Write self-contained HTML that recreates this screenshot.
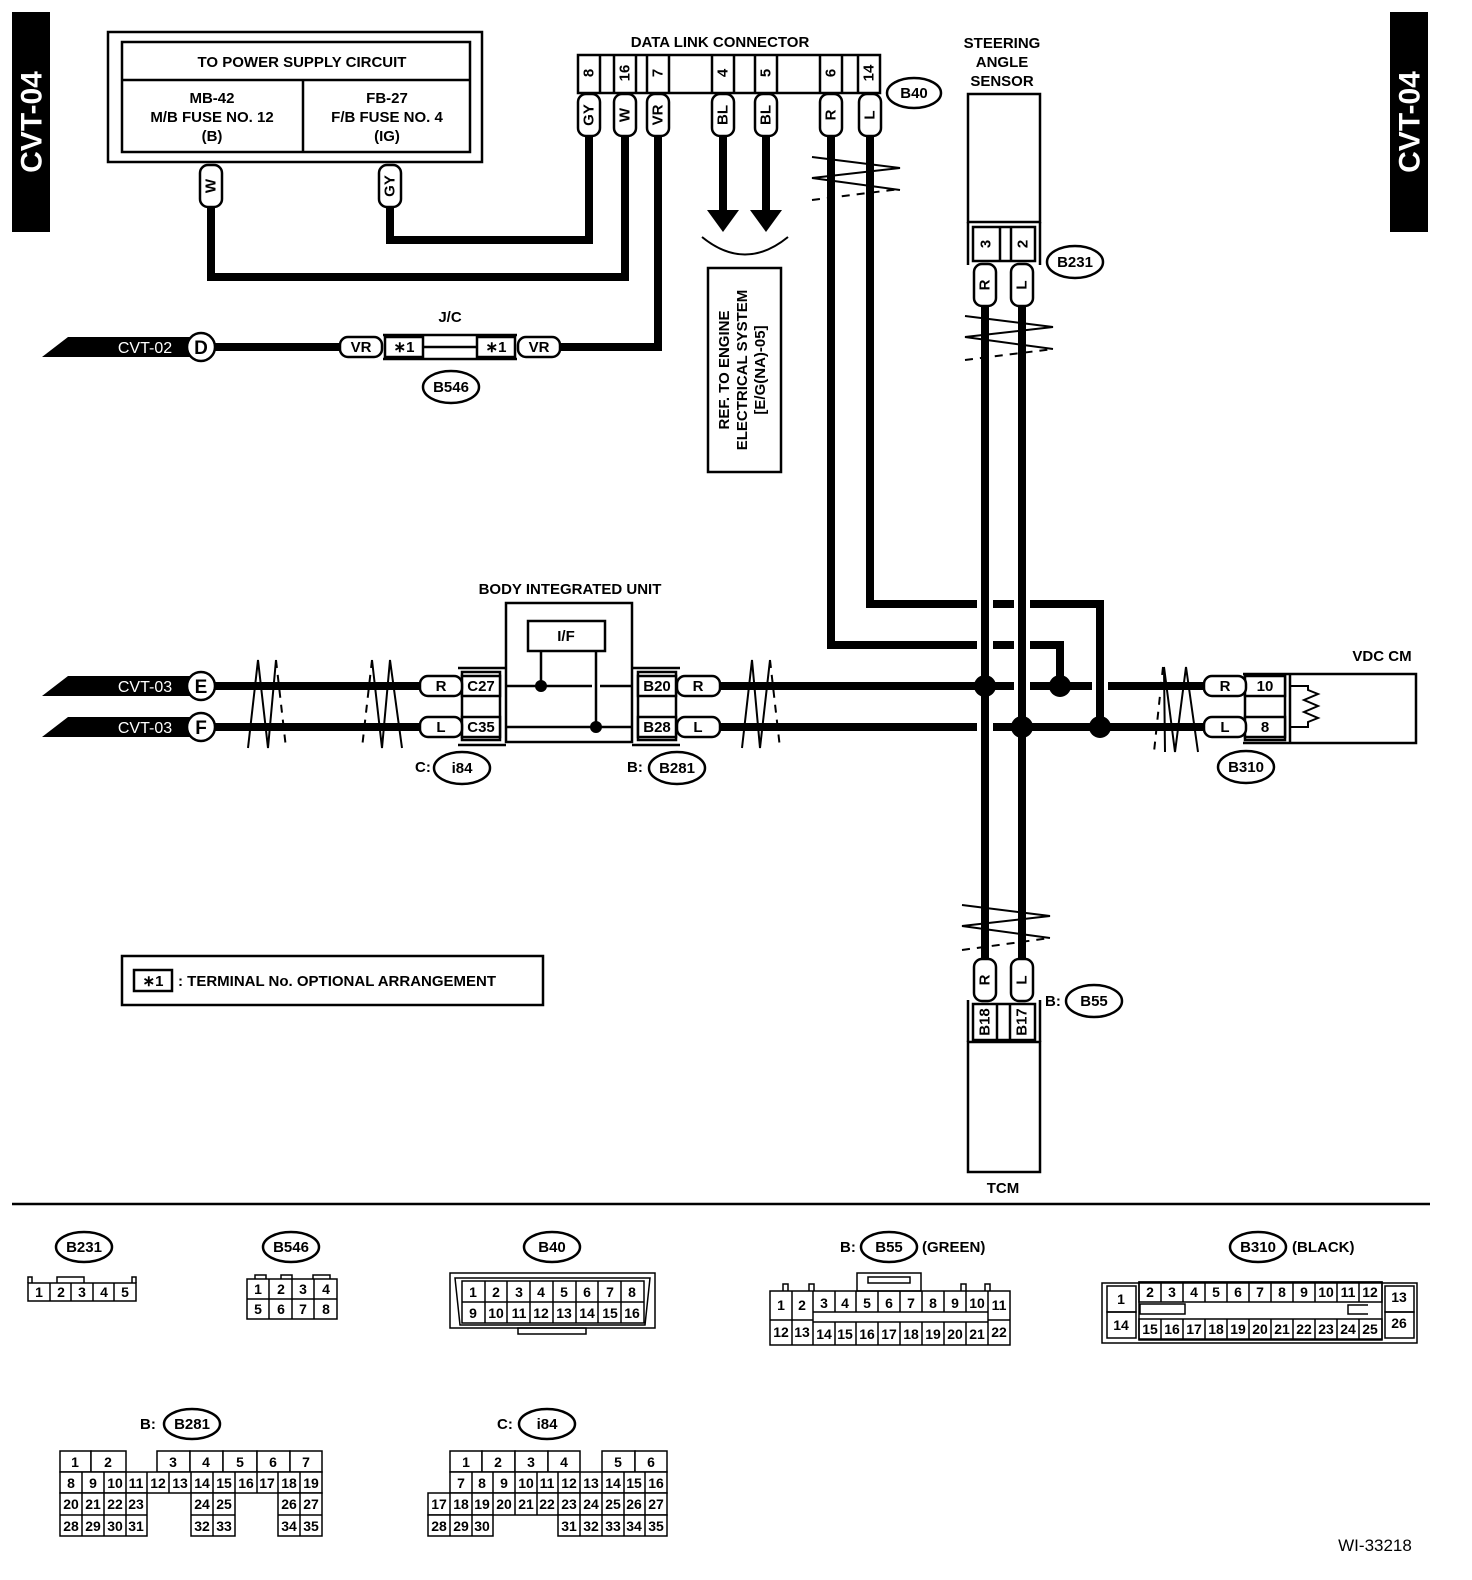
<!DOCTYPE html>
<html><head><meta charset="utf-8"><style>
html,body{margin:0;padding:0;background:#fff}
svg{display:block}
text{font-family:"Liberation Sans",sans-serif;font-weight:bold;fill:#000}
.t{font-size:15px}
.s{font-size:13px;font-weight:normal}
</style></head><body>
<svg width="1472" height="1580" viewBox="0 0 1472 1580" xmlns="http://www.w3.org/2000/svg">
<!-- side tabs -->
<rect x="12" y="12" width="38" height="220" fill="#000"/>
<text transform="translate(32,122) rotate(-90)" text-anchor="middle" dominant-baseline="central" style="font-size:30px;fill:#fff">CVT-04</text>
<rect x="1390" y="12" width="38" height="220" fill="#000"/>
<text transform="translate(1410,122) rotate(-90)" text-anchor="middle" dominant-baseline="central" style="font-size:30px;fill:#fff">CVT-04</text>

<!-- power supply -->
<rect x="108" y="32" width="374" height="130" fill="none" stroke="#000" stroke-width="2.5"/>
<rect x="122" y="42" width="348" height="110" fill="none" stroke="#000" stroke-width="2.5"/>
<line x1="122" y1="80" x2="470" y2="80" stroke="#000" stroke-width="2.5"/>
<line x1="303" y1="80" x2="303" y2="152" stroke="#000" stroke-width="2.5"/>
<g class="t" text-anchor="middle">
<text x="302" y="67">TO POWER SUPPLY CIRCUIT</text>
<text x="212" y="103">MB-42</text><text x="212" y="122">M/B FUSE NO. 12</text><text x="212" y="141">(B)</text>
<text x="387" y="103">FB-27</text><text x="387" y="122">F/B FUSE NO. 4</text><text x="387" y="141">(IG)</text>
</g>

<!-- thick wires -->
<g fill="none" stroke="#000" stroke-width="8">
<polyline points="211,205 211,277 625,277 625,134"/>
<polyline points="390,205 390,240 589,240 589,134"/>
<polyline points="658,134 658,347 560,347"/>
<line x1="215" y1="347" x2="340" y2="347"/>
<line x1="723" y1="134" x2="723" y2="212"/>
<line x1="766" y1="134" x2="766" y2="212"/>
<polyline points="831,134 831,645 977,645"/>
<line x1="993" y1="645" x2="1014" y2="645"/>
<polyline points="1030,645 1060,645 1060,686"/>
<polyline points="870,134 870,604 977,604"/>
<line x1="993" y1="604" x2="1014" y2="604"/>
<polyline points="1030,604 1100,604 1100,727"/>
<line x1="985" y1="305" x2="985" y2="960"/>
<line x1="1022" y1="305" x2="1022" y2="960"/>
<line x1="215" y1="686" x2="420" y2="686"/>
<line x1="215" y1="727" x2="420" y2="727"/>
<line x1="720" y1="686" x2="1014" y2="686"/>
<line x1="1030" y1="686" x2="1092" y2="686"/>
<line x1="1108" y1="686" x2="1205" y2="686"/>
<line x1="720" y1="727" x2="977" y2="727"/>
<line x1="993" y1="727" x2="1205" y2="727"/>
</g>
<g fill="#000">
<circle cx="985" cy="686" r="11"/><circle cx="1022" cy="727" r="11"/>
<circle cx="1060" cy="686" r="11"/><circle cx="1100" cy="727" r="11"/>
</g>
<!-- arrows -->
<polygon points="707,210 739,210 723,232" fill="#000"/>
<polygon points="750,210 782,210 766,232" fill="#000"/>
<path d="M702,237 Q745,272 788,237" fill="none" stroke="#000" stroke-width="2"/>
<rect x="708" y="268" width="73" height="204" fill="none" stroke="#000" stroke-width="2.5"/>
<g class="t" transform="translate(745,370) rotate(-90)" text-anchor="middle">
<text x="0" y="-16">REF. TO ENGINE</text><text x="0" y="2">ELECTRICAL SYSTEM</text><text x="0" y="20">[E/G(NA)-05]</text>
</g>

<g fill="#fff" stroke="#000" stroke-width="2.5">
<rect x="200" y="165" width="22" height="42" rx="8"/>
<rect x="379" y="165" width="22" height="42" rx="8"/>
</g>
<text class="t" transform="translate(211,186) rotate(-90)" text-anchor="middle" dominant-baseline="central">W</text>
<text class="t" transform="translate(390,186) rotate(-90)" text-anchor="middle" dominant-baseline="central">GY</text>

<!-- DLC -->
<text class="t" x="720" y="47" text-anchor="middle">DATA LINK CONNECTOR</text>
<rect x="578" y="55" width="302" height="38" fill="#fff" stroke="#000" stroke-width="2.5"/>
<g stroke="#000" stroke-width="2.5">
<line x1="600" y1="55" x2="600" y2="93"/><line x1="614" y1="55" x2="614" y2="93"/><line x1="636" y1="55" x2="636" y2="93"/>
<line x1="647" y1="55" x2="647" y2="93"/><line x1="669" y1="55" x2="669" y2="93"/>
<line x1="712" y1="55" x2="712" y2="93"/><line x1="734" y1="55" x2="734" y2="93"/>
<line x1="755" y1="55" x2="755" y2="93"/><line x1="777" y1="55" x2="777" y2="93"/>
<line x1="820" y1="55" x2="820" y2="93"/><line x1="842" y1="55" x2="842" y2="93"/>
<line x1="858" y1="55" x2="858" y2="93"/>
</g>
<g class="t" text-anchor="middle" dominant-baseline="central">
<text transform="translate(589,73) rotate(-90)">8</text>
<text transform="translate(625,73) rotate(-90)">16</text>
<text transform="translate(658,73) rotate(-90)">7</text>
<text transform="translate(723,73) rotate(-90)">4</text>
<text transform="translate(766,73) rotate(-90)">5</text>
<text transform="translate(831,73) rotate(-90)">6</text>
<text transform="translate(869,73) rotate(-90)">14</text>
</g>
<g fill="#fff" stroke="#000" stroke-width="2.5">
<rect x="578" y="94" width="22" height="42" rx="8"/>
<rect x="614" y="94" width="22" height="42" rx="8"/>
<rect x="647" y="94" width="22" height="42" rx="8"/>
<rect x="712" y="94" width="22" height="42" rx="8"/>
<rect x="755" y="94" width="22" height="42" rx="8"/>
<rect x="820" y="94" width="22" height="42" rx="8"/>
<rect x="859" y="94" width="22" height="42" rx="8"/>
</g>
<g class="t" text-anchor="middle" dominant-baseline="central">
<text transform="translate(589,115) rotate(-90)">GY</text>
<text transform="translate(625,115) rotate(-90)">W</text>
<text transform="translate(658,115) rotate(-90)">VR</text>
<text transform="translate(723,115) rotate(-90)">BL</text>
<text transform="translate(766,115) rotate(-90)">BL</text>
<text transform="translate(831,115) rotate(-90)">R</text>
<text transform="translate(870,115) rotate(-90)">L</text>
</g>
<ellipse cx="914" cy="93" rx="27" ry="15" fill="#fff" stroke="#000" stroke-width="2.5"/>
<text class="t" x="914" y="98" text-anchor="middle">B40</text>

<!-- break marks -->
<g stroke="#000" stroke-width="2" fill="none">
<polyline points="812,157 900,168 812,178 900,190"/>
<line x1="812" y1="200" x2="900" y2="189" stroke-dasharray="8,7"/>
<polyline points="965,316 1053,327 965,337 1053,349"/>
<line x1="965" y1="360" x2="1053" y2="349" stroke-dasharray="8,7"/>
<polyline points="962,905 1050,916 962,926 1050,938"/>
<line x1="962" y1="950" x2="1050" y2="938" stroke-dasharray="8,7"/>
<polyline points="248,748 258,660 268,748 276,660"/>
<line x1="276" y1="660" x2="286" y2="748" stroke-dasharray="8,7"/>
<line x1="372" y1="660" x2="362" y2="748" stroke-dasharray="8,7"/>
<polyline points="372,660 382,748 390,660 402,748"/>
<polyline points="742,748 752,660 760,748 770,660"/>
<line x1="770" y1="660" x2="780" y2="748" stroke-dasharray="8,7"/>
<line x1="1163" y1="667" x2="1154" y2="752" stroke-dasharray="8,7"/>
<polyline points="1165,752 1164,667 1175,752 1186,667 1198,752"/>
</g>

<!-- steering angle sensor -->
<g class="t" text-anchor="middle"><text x="1002" y="48">STEERING</text><text x="1002" y="67">ANGLE</text><text x="1002" y="86">SENSOR</text></g>
<rect x="968" y="94" width="72" height="128" fill="#fff" stroke="#000" stroke-width="2.5"/>
<line x1="968" y1="222" x2="968" y2="265" stroke="#000" stroke-width="2.5"/>
<line x1="1040" y1="222" x2="1040" y2="265" stroke="#000" stroke-width="2.5"/>
<rect x="973" y="227" width="62" height="34" fill="#fff" stroke="#000" stroke-width="2.5"/>
<line x1="1000" y1="227" x2="1000" y2="261" stroke="#000" stroke-width="2.5"/>
<line x1="1011" y1="227" x2="1011" y2="261" stroke="#000" stroke-width="2.5"/>
<text class="t" transform="translate(986,244) rotate(-90)" text-anchor="middle" dominant-baseline="central">3</text>
<text class="t" transform="translate(1023,244) rotate(-90)" text-anchor="middle" dominant-baseline="central">2</text>
<rect x="974" y="264" width="22" height="42" rx="8" fill="#fff" stroke="#000" stroke-width="2.5"/>
<rect x="1011" y="264" width="22" height="42" rx="8" fill="#fff" stroke="#000" stroke-width="2.5"/>
<text class="t" transform="translate(985,285) rotate(-90)" text-anchor="middle" dominant-baseline="central">R</text>
<text class="t" transform="translate(1022,285) rotate(-90)" text-anchor="middle" dominant-baseline="central">L</text>
<ellipse cx="1075" cy="262" rx="28" ry="16" fill="#fff" stroke="#000" stroke-width="2.5"/>
<text class="t" x="1075" y="267" text-anchor="middle">B231</text>

<!-- TCM -->
<rect x="974" y="959" width="22" height="42" rx="8" fill="#fff" stroke="#000" stroke-width="2.5"/>
<rect x="1011" y="959" width="22" height="42" rx="8" fill="#fff" stroke="#000" stroke-width="2.5"/>
<text class="t" transform="translate(985,980) rotate(-90)" text-anchor="middle" dominant-baseline="central">R</text>
<text class="t" transform="translate(1022,980) rotate(-90)" text-anchor="middle" dominant-baseline="central">L</text>
<line x1="968" y1="1000" x2="968" y2="1042" stroke="#000" stroke-width="2.5"/>
<line x1="1040" y1="1000" x2="1040" y2="1042" stroke="#000" stroke-width="2.5"/>
<rect x="973" y="1004" width="62" height="36" fill="#fff" stroke="#000" stroke-width="2.5"/>
<line x1="997" y1="1004" x2="997" y2="1040" stroke="#000" stroke-width="2.5"/>
<line x1="1010" y1="1004" x2="1010" y2="1040" stroke="#000" stroke-width="2.5"/>
<text class="t" transform="translate(985,1022) rotate(-90)" text-anchor="middle" dominant-baseline="central">B18</text>
<text class="t" transform="translate(1022,1022) rotate(-90)" text-anchor="middle" dominant-baseline="central">B17</text>
<rect x="968" y="1042" width="72" height="130" fill="#fff" stroke="#000" stroke-width="2.5"/>
<text class="t" x="1003" y="1193" text-anchor="middle">TCM</text>
<text class="t" x="1045" y="1006">B:</text>
<ellipse cx="1094" cy="1001" rx="28" ry="16" fill="#fff" stroke="#000" stroke-width="2.5"/>
<text class="t" x="1094" y="1006" text-anchor="middle">B55</text>

<!-- CVT labels -->
<g>
<polygon points="42,357 68,337 190,337 190,357" fill="#000"/>
<text x="145" y="353" text-anchor="middle" style="font-size:16px;fill:#fff;font-weight:normal">CVT-02</text>
<circle cx="201" cy="347" r="14" fill="#fff" stroke="#000" stroke-width="2.5"/>
<text x="201" y="354" text-anchor="middle" style="font-size:19px">D</text>
<polygon points="42,696 68,676 190,676 190,696" fill="#000"/>
<text x="145" y="692" text-anchor="middle" style="font-size:16px;fill:#fff;font-weight:normal">CVT-03</text>
<circle cx="201" cy="686" r="14" fill="#fff" stroke="#000" stroke-width="2.5"/>
<text x="201" y="693" text-anchor="middle" style="font-size:19px">E</text>
<polygon points="42,737 68,717 190,717 190,737" fill="#000"/>
<text x="145" y="733" text-anchor="middle" style="font-size:16px;fill:#fff;font-weight:normal">CVT-03</text>
<circle cx="201" cy="727" r="14" fill="#fff" stroke="#000" stroke-width="2.5"/>
<text x="201" y="734" text-anchor="middle" style="font-size:19px">F</text>
</g>

<!-- J/C -->
<text class="t" x="450" y="322" text-anchor="middle">J/C</text>
<g stroke="#000" stroke-width="2.5" fill="#fff">
<line x1="383" y1="335" x2="517" y2="335"/><line x1="383" y1="359" x2="517" y2="359"/>
<line x1="423" y1="347" x2="477" y2="347"/>
<rect x="340" y="337" width="42" height="20" rx="8"/>
<rect x="385" y="337" width="38" height="20"/>
<rect x="477" y="337" width="38" height="20"/>
<rect x="518" y="337" width="42" height="20" rx="8"/>
</g>
<g class="t" text-anchor="middle">
<text x="361" y="352">VR</text><text x="404" y="352">∗1</text><text x="496" y="352">∗1</text><text x="539" y="352">VR</text>
</g>
<ellipse cx="451" cy="387" rx="28" ry="16" fill="#fff" stroke="#000" stroke-width="2.5"/>
<text class="t" x="451" y="392" text-anchor="middle">B546</text>

<!-- Body integrated unit -->
<text class="t" x="570" y="594" text-anchor="middle">BODY INTEGRATED UNIT</text>
<rect x="506" y="603" width="126" height="139" fill="#fff" stroke="#000" stroke-width="2.5"/>
<rect x="528" y="621" width="77" height="30" fill="#fff" stroke="#000" stroke-width="2.5"/>
<text class="t" x="566" y="641" text-anchor="middle">I/F</text>
<g stroke="#000" stroke-width="2.5">
<line x1="506" y1="686" x2="592" y2="686"/><line x1="600" y1="686" x2="632" y2="686"/>
<line x1="506" y1="727" x2="632" y2="727"/>
<line x1="541" y1="651" x2="541" y2="686"/><line x1="596" y1="651" x2="596" y2="727"/>
<line x1="458" y1="668" x2="506" y2="668"/><line x1="458" y1="745" x2="506" y2="745"/>
<line x1="632" y1="668" x2="680" y2="668"/><line x1="632" y1="745" x2="680" y2="745"/>
</g>
<circle cx="541" cy="686" r="6" fill="#000"/><circle cx="596" cy="727" r="6" fill="#000"/>
<g stroke="#000" stroke-width="2.5" fill="#fff">
<rect x="462" y="672" width="38" height="68"/><rect x="462" y="676" width="38" height="20"/><rect x="462" y="717" width="38" height="20"/>
<rect x="638" y="672" width="38" height="68"/><rect x="638" y="676" width="38" height="20"/><rect x="638" y="717" width="38" height="20"/>
<rect x="420" y="676" width="42" height="20" rx="8"/><rect x="420" y="717" width="42" height="20" rx="8"/>
<rect x="677" y="676" width="43" height="20" rx="8"/><rect x="677" y="717" width="43" height="20" rx="8"/>
</g>
<g class="t" text-anchor="middle">
<text x="441" y="691">R</text><text x="441" y="732">L</text>
<text x="481" y="691">C27</text><text x="481" y="732">C35</text>
<text x="657" y="691">B20</text><text x="657" y="732">B28</text>
<text x="698" y="691">R</text><text x="698" y="732">L</text>
</g>
<text class="t" x="415" y="772">C:</text>
<ellipse cx="462" cy="768" rx="28" ry="16" fill="#fff" stroke="#000" stroke-width="2.5"/>
<text class="t" x="462" y="773" text-anchor="middle">i84</text>
<text class="t" x="627" y="772">B:</text>
<ellipse cx="677" cy="768" rx="28" ry="16" fill="#fff" stroke="#000" stroke-width="2.5"/>
<text class="t" x="677" y="773" text-anchor="middle">B281</text>

<!-- VDC CM -->
<text class="t" x="1382" y="661" text-anchor="middle">VDC CM</text>
<g stroke="#000" stroke-width="2.5" fill="#fff">
<polyline points="1243,674 1416,674 1416,743 1243,743" />
<line x1="1290" y1="674" x2="1290" y2="743"/>
<rect x="1245" y="676" width="40" height="64"/><rect x="1245" y="676" width="40" height="20"/><rect x="1245" y="717" width="40" height="20"/>
<rect x="1204" y="676" width="42" height="20" rx="8"/><rect x="1204" y="717" width="42" height="20" rx="8"/>
</g>
<polyline points="1290,686 1308,686 1308,690 1318,694 1304,700 1318,706 1304,712 1318,718 1308,722 1308,727 1290,727" fill="none" stroke="#000" stroke-width="2"/>
<g class="t" text-anchor="middle">
<text x="1225" y="691">R</text><text x="1225" y="732">L</text><text x="1265" y="691">10</text><text x="1265" y="732">8</text>
</g>
<ellipse cx="1246" cy="767" rx="28" ry="16" fill="#fff" stroke="#000" stroke-width="2.5"/>
<text class="t" x="1246" y="772" text-anchor="middle">B310</text>

<!-- legend -->
<rect x="122" y="956" width="421" height="49" fill="#fff" stroke="#000" stroke-width="2.5"/>
<rect x="134" y="970" width="38" height="21" fill="#fff" stroke="#000" stroke-width="2.5"/>
<text class="t" x="153" y="986" text-anchor="middle">∗1</text>
<text class="t" x="178" y="986">: TERMINAL No. OPTIONAL ARRANGEMENT</text>

<line x1="12" y1="1204" x2="1430" y2="1204" stroke="#000" stroke-width="2.5"/>

<!-- bottom connectors -->
<g fill="#fff" stroke="#000" stroke-width="2.5">
<ellipse cx="84" cy="1247" rx="28" ry="15"/>
<ellipse cx="291" cy="1247" rx="28" ry="15"/>
<ellipse cx="552" cy="1247" rx="28" ry="15"/>
<ellipse cx="889" cy="1247" rx="28" ry="15"/>
<ellipse cx="1258" cy="1247" rx="28" ry="15"/>
<ellipse cx="192" cy="1424" rx="28" ry="15"/>
<ellipse cx="547" cy="1424" rx="28" ry="15"/>
</g>
<g class="t" text-anchor="middle">
<text x="84" y="1252">B231</text><text x="291" y="1252">B546</text><text x="552" y="1252">B40</text>
<text x="889" y="1252">B55</text><text x="1258" y="1252">B310</text>
<text x="192" y="1429">B281</text><text x="547" y="1429">i84</text>
</g>
<g class="t"><text x="840" y="1252">B:</text><text x="922" y="1252">(GREEN)</text><text x="1292" y="1252">(BLACK)</text>
<text x="140" y="1429">B:</text><text x="497" y="1429">C:</text></g>

<g fill="none" stroke="#000" stroke-width="1.5">
<rect x="28" y="1283" width="108" height="18"/>
<line x1="50" y1="1283" x2="50" y2="1301"/><line x1="71" y1="1283" x2="71" y2="1301"/><line x1="93" y1="1283" x2="93" y2="1301"/><line x1="114" y1="1283" x2="114" y2="1301"/>
<polyline points="28,1283 28,1277 32,1277 32,1283"/><polyline points="132,1283 132,1277 136,1277 136,1283"/>
<polyline points="57,1283 57,1277 84,1277 84,1283"/>
<rect x="247" y="1279" width="90" height="40"/>
<line x1="247" y1="1299" x2="337" y2="1299"/>
<line x1="269" y1="1279" x2="269" y2="1319"/><line x1="292" y1="1279" x2="292" y2="1319"/><line x1="314" y1="1279" x2="314" y2="1319"/>
<polyline points="255,1279 255,1275 266,1275 266,1279"/><polyline points="281,1279 281,1275 292,1275 292,1279"/><polyline points="313,1279 313,1275 330,1275 330,1279"/>
<rect x="450" y="1273" width="205" height="55"/>
<path d="M455,1278 L650,1278 L645,1325 L460,1325 Z"/>
<rect x="462" y="1281" width="182" height="42"/>
<line x1="462" y1="1302" x2="644" y2="1302"/>
<line x1="485" y1="1281" x2="485" y2="1323"/><line x1="507" y1="1281" x2="507" y2="1323"/><line x1="530" y1="1281" x2="530" y2="1323"/><line x1="553" y1="1281" x2="553" y2="1323"/><line x1="576" y1="1281" x2="576" y2="1323"/><line x1="598" y1="1281" x2="598" y2="1323"/><line x1="621" y1="1281" x2="621" y2="1323"/>
<rect x="518" y="1328" width="68" height="6"/>
<rect x="770" y="1291" width="240" height="54"/>
<line x1="770" y1="1320" x2="813" y2="1320"/><line x1="988" y1="1320" x2="1010" y2="1320"/>
<line x1="813" y1="1312" x2="988" y2="1312"/><line x1="813" y1="1322" x2="988" y2="1322"/>
<line x1="792" y1="1291" x2="792" y2="1345"/><line x1="813" y1="1291" x2="813" y2="1345"/>
<line x1="835" y1="1291" x2="835" y2="1312"/><line x1="856" y1="1291" x2="856" y2="1312"/><line x1="878" y1="1291" x2="878" y2="1312"/><line x1="900" y1="1291" x2="900" y2="1312"/><line x1="922" y1="1291" x2="922" y2="1312"/><line x1="944" y1="1291" x2="944" y2="1312"/><line x1="966" y1="1291" x2="966" y2="1312"/>
<line x1="835" y1="1322" x2="835" y2="1345"/><line x1="856" y1="1322" x2="856" y2="1345"/><line x1="878" y1="1322" x2="878" y2="1345"/><line x1="900" y1="1322" x2="900" y2="1345"/><line x1="922" y1="1322" x2="922" y2="1345"/><line x1="944" y1="1322" x2="944" y2="1345"/><line x1="966" y1="1322" x2="966" y2="1345"/>
<line x1="988" y1="1291" x2="988" y2="1345"/>
<rect x="857" y="1273" width="64" height="18"/><rect x="868" y="1277" width="42" height="6"/>
<polyline points="783,1291 783,1284 788,1284 788,1291"/><polyline points="809,1291 809,1284 814,1284 814,1291"/><polyline points="961,1291 961,1284 966,1284 966,1291"/><polyline points="985,1291 985,1284 990,1284 990,1291"/>
<rect x="1102" y="1283" width="315" height="60"/>
<rect x="1107" y="1286" width="29" height="26"/><rect x="1107" y="1312" width="29" height="26"/>
<rect x="1385" y="1286" width="29" height="26"/><rect x="1385" y="1312" width="29" height="26"/>
<rect x="1139" y="1282" width="243" height="58"/>
<rect x="1139" y="1282" width="243" height="20"/><rect x="1139" y="1319" width="243" height="20"/>
<rect x="1140" y="1304" width="45" height="10"/><polyline points="1368,1305 1348,1305 1348,1314 1368,1314"/>
<line x1="1161" y1="1282" x2="1161" y2="1302"/><line x1="1183" y1="1282" x2="1183" y2="1302"/><line x1="1205" y1="1282" x2="1205" y2="1302"/><line x1="1227" y1="1282" x2="1227" y2="1302"/><line x1="1249" y1="1282" x2="1249" y2="1302"/><line x1="1271" y1="1282" x2="1271" y2="1302"/><line x1="1293" y1="1282" x2="1293" y2="1302"/><line x1="1315" y1="1282" x2="1315" y2="1302"/><line x1="1337" y1="1282" x2="1337" y2="1302"/><line x1="1359" y1="1282" x2="1359" y2="1302"/>
<line x1="1161" y1="1319" x2="1161" y2="1339"/><line x1="1183" y1="1319" x2="1183" y2="1339"/><line x1="1205" y1="1319" x2="1205" y2="1339"/><line x1="1227" y1="1319" x2="1227" y2="1339"/><line x1="1249" y1="1319" x2="1249" y2="1339"/><line x1="1271" y1="1319" x2="1271" y2="1339"/><line x1="1293" y1="1319" x2="1293" y2="1339"/><line x1="1315" y1="1319" x2="1315" y2="1339"/><line x1="1337" y1="1319" x2="1337" y2="1339"/><line x1="1359" y1="1319" x2="1359" y2="1339"/>
</g>
<g class="s" text-anchor="middle" style="font-size:14px">
<text x="39" y="1297">1</text><text x="61" y="1297">2</text><text x="82" y="1297">3</text><text x="104" y="1297">4</text><text x="125" y="1297">5</text>
<text x="258" y="1294">1</text><text x="281" y="1294">2</text><text x="303" y="1294">3</text><text x="326" y="1294">4</text>
<text x="258" y="1314">5</text><text x="281" y="1314">6</text><text x="303" y="1314">7</text><text x="326" y="1314">8</text>
<text x="473" y="1297">1</text><text x="496" y="1297">2</text><text x="519" y="1297">3</text><text x="541" y="1297">4</text><text x="564" y="1297">5</text><text x="587" y="1297">6</text><text x="610" y="1297">7</text><text x="632" y="1297">8</text>
<text x="473" y="1318">9</text><text x="496" y="1318">10</text><text x="519" y="1318">11</text><text x="541" y="1318">12</text><text x="564" y="1318">13</text><text x="587" y="1318">14</text><text x="610" y="1318">15</text><text x="632" y="1318">16</text>
<text x="781" y="1310">1</text><text x="802" y="1310">2</text><text x="824" y="1308">3</text><text x="845" y="1308">4</text><text x="867" y="1308">5</text><text x="889" y="1308">6</text><text x="911" y="1308">7</text><text x="933" y="1308">8</text><text x="955" y="1308">9</text><text x="977" y="1308">10</text><text x="999" y="1310">11</text>
<text x="781" y="1337">12</text><text x="802" y="1337">13</text><text x="824" y="1339">14</text><text x="845" y="1339">15</text><text x="867" y="1339">16</text><text x="889" y="1339">17</text><text x="911" y="1339">18</text><text x="933" y="1339">19</text><text x="955" y="1339">20</text><text x="977" y="1339">21</text><text x="999" y="1337">22</text>
<text x="1121" y="1304">1</text><text x="1121" y="1330">14</text><text x="1399" y="1302">13</text><text x="1399" y="1328">26</text>
<text x="1150" y="1297">2</text><text x="1172" y="1297">3</text><text x="1194" y="1297">4</text><text x="1216" y="1297">5</text><text x="1238" y="1297">6</text><text x="1260" y="1297">7</text><text x="1282" y="1297">8</text><text x="1304" y="1297">9</text><text x="1326" y="1297">10</text><text x="1348" y="1297">11</text><text x="1370" y="1297">12</text>
<text x="1150" y="1334">15</text><text x="1172" y="1334">16</text><text x="1194" y="1334">17</text><text x="1216" y="1334">18</text><text x="1238" y="1334">19</text><text x="1260" y="1334">20</text><text x="1282" y="1334">21</text><text x="1304" y="1334">22</text><text x="1326" y="1334">23</text><text x="1348" y="1334">24</text><text x="1370" y="1334">25</text>
</g>

<g fill="#fff" stroke="#000" stroke-width="1.5">
<rect x="60" y="1451" width="31" height="21"/><rect x="91" y="1451" width="35" height="21"/>
<rect x="157" y="1451" width="33" height="21"/><rect x="190" y="1451" width="33" height="21"/><rect x="223" y="1451" width="34" height="21"/><rect x="257" y="1451" width="33" height="21"/><rect x="290" y="1451" width="32" height="21"/>
<rect x="60" y="1472" width="262" height="21"/>
<line x1="82" y1="1472" x2="82" y2="1493"/><line x1="104" y1="1472" x2="104" y2="1493"/><line x1="126" y1="1472" x2="126" y2="1493"/><line x1="147" y1="1472" x2="147" y2="1493"/><line x1="169" y1="1472" x2="169" y2="1493"/><line x1="191" y1="1472" x2="191" y2="1493"/><line x1="213" y1="1472" x2="213" y2="1493"/><line x1="235" y1="1472" x2="235" y2="1493"/><line x1="257" y1="1472" x2="257" y2="1493"/><line x1="278" y1="1472" x2="278" y2="1493"/><line x1="300" y1="1472" x2="300" y2="1493"/>
<rect x="60" y="1493" width="87" height="43"/><line x1="60" y1="1515" x2="147" y2="1515"/><line x1="82" y1="1493" x2="82" y2="1536"/><line x1="104" y1="1493" x2="104" y2="1536"/><line x1="126" y1="1493" x2="126" y2="1536"/>
<rect x="191" y="1493" width="44" height="43"/><line x1="191" y1="1515" x2="235" y2="1515"/><line x1="213" y1="1493" x2="213" y2="1536"/>
<rect x="278" y="1493" width="44" height="43"/><line x1="278" y1="1515" x2="322" y2="1515"/><line x1="300" y1="1493" x2="300" y2="1536"/>
<rect x="450" y="1451" width="32" height="21"/><rect x="482" y="1451" width="33" height="21"/><rect x="515" y="1451" width="33" height="21"/><rect x="548" y="1451" width="32" height="21"/>
<rect x="602" y="1451" width="33" height="21"/><rect x="635" y="1451" width="32" height="21"/>
<rect x="450" y="1472" width="217" height="21"/>
<line x1="472" y1="1472" x2="472" y2="1493"/><line x1="493" y1="1472" x2="493" y2="1493"/><line x1="515" y1="1472" x2="515" y2="1493"/><line x1="537" y1="1472" x2="537" y2="1493"/><line x1="558" y1="1472" x2="558" y2="1493"/><line x1="580" y1="1472" x2="580" y2="1493"/><line x1="602" y1="1472" x2="602" y2="1493"/><line x1="624" y1="1472" x2="624" y2="1493"/><line x1="645" y1="1472" x2="645" y2="1493"/>
<rect x="428" y="1493" width="239" height="22"/>
<line x1="450" y1="1493" x2="450" y2="1515"/><line x1="472" y1="1493" x2="472" y2="1515"/><line x1="493" y1="1493" x2="493" y2="1515"/><line x1="515" y1="1493" x2="515" y2="1515"/><line x1="537" y1="1493" x2="537" y2="1515"/><line x1="558" y1="1493" x2="558" y2="1515"/><line x1="580" y1="1493" x2="580" y2="1515"/><line x1="602" y1="1493" x2="602" y2="1515"/><line x1="624" y1="1493" x2="624" y2="1515"/><line x1="645" y1="1493" x2="645" y2="1515"/>
<rect x="428" y="1515" width="65" height="21"/><line x1="450" y1="1515" x2="450" y2="1536"/><line x1="472" y1="1515" x2="472" y2="1536"/>
<rect x="558" y="1515" width="109" height="21"/><line x1="580" y1="1515" x2="580" y2="1536"/><line x1="602" y1="1515" x2="602" y2="1536"/><line x1="624" y1="1515" x2="624" y2="1536"/><line x1="645" y1="1515" x2="645" y2="1536"/>
</g>
<g class="s" text-anchor="middle" style="font-size:14px">
<text x="75" y="1467">1</text><text x="108" y="1467">2</text><text x="173" y="1467">3</text><text x="206" y="1467">4</text><text x="240" y="1467">5</text><text x="273" y="1467">6</text><text x="306" y="1467">7</text>
<text x="71" y="1488">8</text><text x="93" y="1488">9</text><text x="115" y="1488">10</text><text x="136" y="1488">11</text><text x="158" y="1488">12</text><text x="180" y="1488">13</text><text x="202" y="1488">14</text><text x="224" y="1488">15</text><text x="246" y="1488">16</text><text x="267" y="1488">17</text><text x="289" y="1488">18</text><text x="311" y="1488">19</text>
<text x="71" y="1509">20</text><text x="93" y="1509">21</text><text x="115" y="1509">22</text><text x="136" y="1509">23</text><text x="202" y="1509">24</text><text x="224" y="1509">25</text><text x="289" y="1509">26</text><text x="311" y="1509">27</text>
<text x="71" y="1531">28</text><text x="93" y="1531">29</text><text x="115" y="1531">30</text><text x="136" y="1531">31</text><text x="202" y="1531">32</text><text x="224" y="1531">33</text><text x="289" y="1531">34</text><text x="311" y="1531">35</text>
<text x="466" y="1467">1</text><text x="498" y="1467">2</text><text x="531" y="1467">3</text><text x="564" y="1467">4</text><text x="618" y="1467">5</text><text x="651" y="1467">6</text>
<text x="461" y="1488">7</text><text x="482" y="1488">8</text><text x="504" y="1488">9</text><text x="526" y="1488">10</text><text x="547" y="1488">11</text><text x="569" y="1488">12</text><text x="591" y="1488">13</text><text x="613" y="1488">14</text><text x="634" y="1488">15</text><text x="656" y="1488">16</text>
<text x="439" y="1509">17</text><text x="461" y="1509">18</text><text x="482" y="1509">19</text><text x="504" y="1509">20</text><text x="526" y="1509">21</text><text x="547" y="1509">22</text><text x="569" y="1509">23</text><text x="591" y="1509">24</text><text x="613" y="1509">25</text><text x="634" y="1509">26</text><text x="656" y="1509">27</text>
<text x="439" y="1531">28</text><text x="461" y="1531">29</text><text x="482" y="1531">30</text><text x="569" y="1531">31</text><text x="591" y="1531">32</text><text x="613" y="1531">33</text><text x="634" y="1531">34</text><text x="656" y="1531">35</text>
</g>
<text x="1375" y="1551" text-anchor="middle" style="font-size:17px;font-weight:normal">WI-33218</text>
</svg>
</body></html>
